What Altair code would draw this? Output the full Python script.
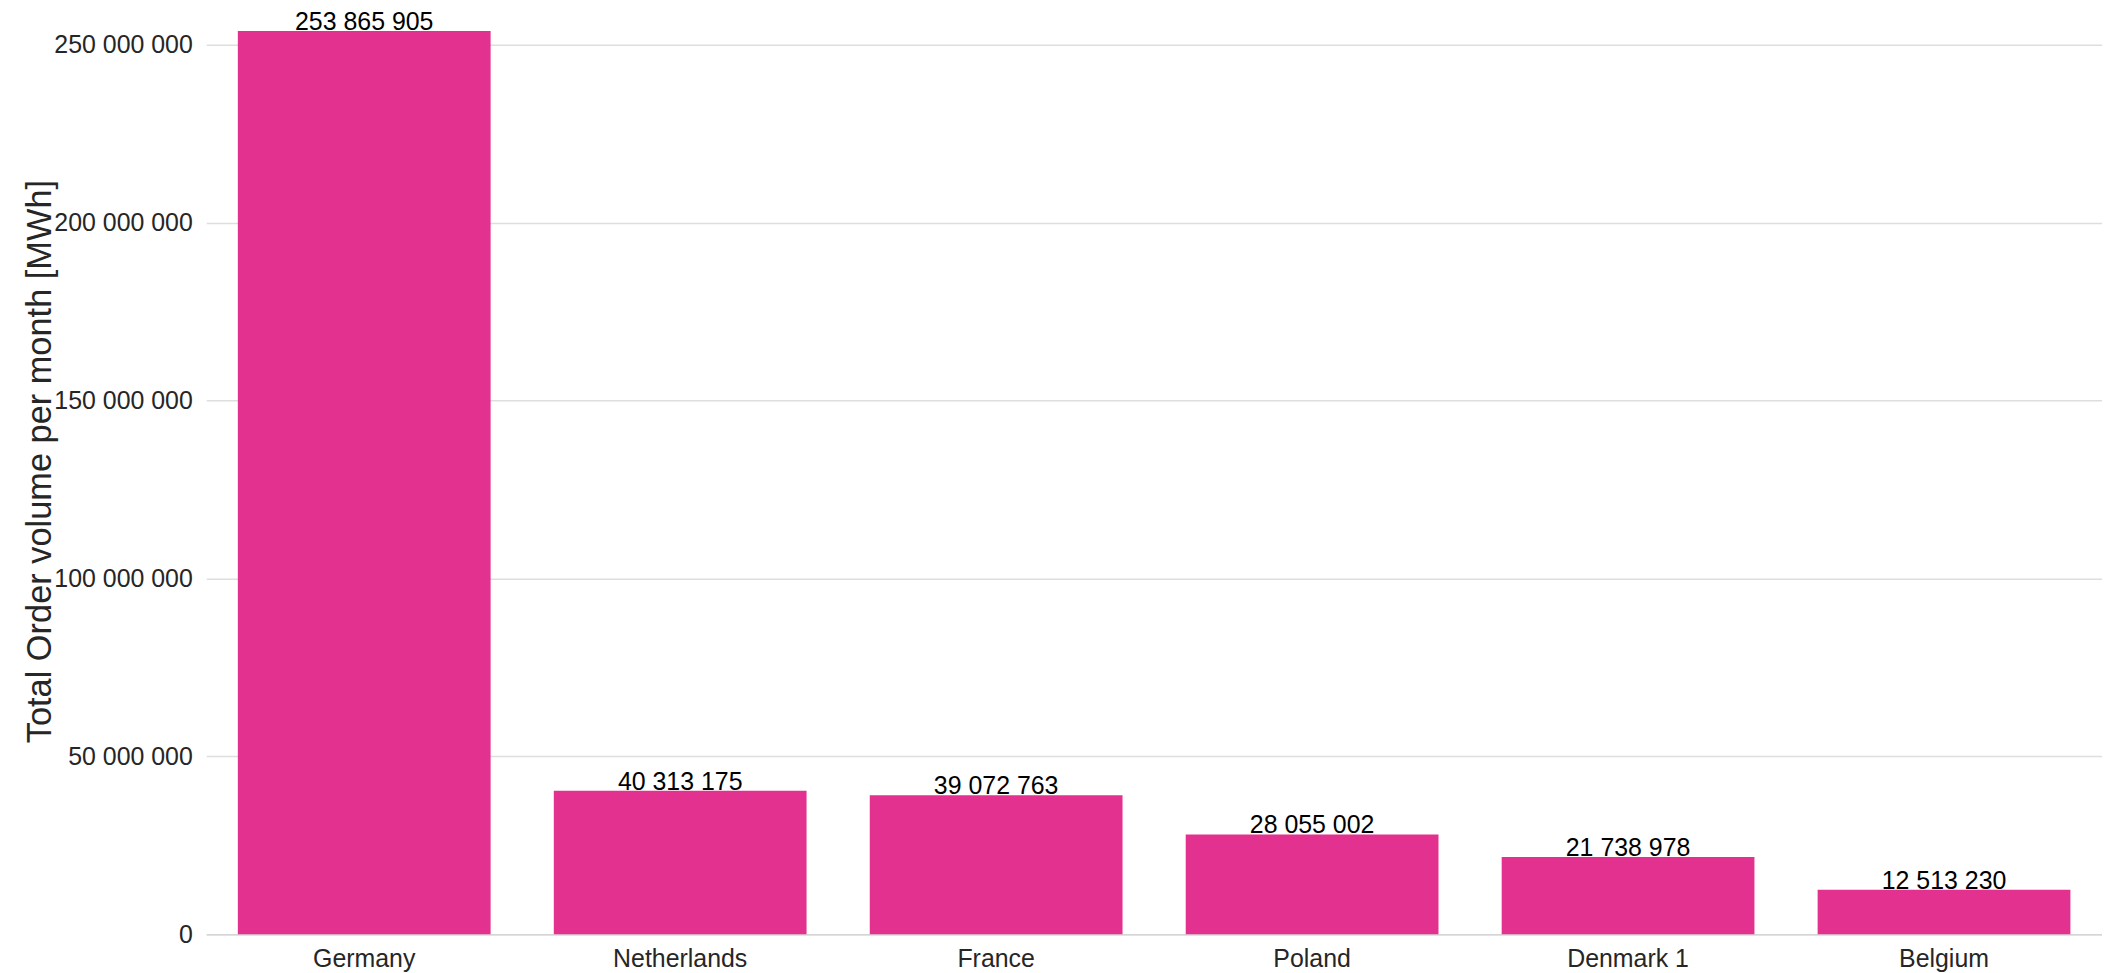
import altair as alt
import pandas as pd

countries = ["Germany", "Netherlands", "France", "Poland", "Denmark 1", "Belgium"]
volumes = [253865905, 40313175, 39072763, 28055002, 21738978, 12513230]
y_ticks = [0, 50000000, 100000000, 150000000, 200000000, 250000000]

df = pd.DataFrame({"country": countries, "volume": volumes})
df["label"] = [f"{v:,}".replace(",", " ") for v in volumes]

FONT = "Liberation Sans"
BAR = "#E2318E"

base = alt.Chart(df).encode(
    x=alt.X(
        "country:N",
        sort=countries,
        title=None,
        scale=alt.Scale(paddingInner=0.2, paddingOuter=0.1),
        axis=alt.Axis(
            labelAngle=0,
            labelFontSize=25,
            labelFont=FONT,
            labelColor="#262626",
            labelPadding=12,
            ticks=False,
            domain=True,
            domainColor="#d6d6d6",
            domainWidth=1.5,
            grid=False,
        ),
    ),
    y=alt.Y(
        "volume:Q",
        title="Total Order volume per month [MWh]",
        scale=alt.Scale(domain=[0, 259800000], nice=False, zero=True),
        axis=alt.Axis(
            values=y_ticks,
            labelExpr="replace(replace(format(datum.value, ','), ',', ' '), ',', ' ')",
            labelFontSize=25,
            labelFont=FONT,
            labelColor="#262626",
            labelPadding=14,
            ticks=False,
            domain=False,
            grid=True,
            gridColor="#dedede",
            gridWidth=1.5,
            titleFont=FONT,
            titleFontSize=34.5,
            titleFontWeight="normal",
            titleColor="#262626",
            titleAngle=270,
            titleAlign="center",
            titleBaseline="alphabetic",
            titleX=-156,
            titleY=453,
        ),
    ),
)

bars = base.mark_bar(color=BAR)

texts = base.mark_text(
    font=FONT, fontSize=25, color="black", baseline="alphabetic", dy=-1
).encode(text="label:N")

chart = (
    alt.layer(bars, texts)
    .properties(
        width=1903,
        height=928,
        background="white",
        autosize=alt.AutoSizeParams(type="none"),
        padding={"left": 199, "top": 0, "right": 0, "bottom": 37},
    )
    .configure_view(stroke="transparent", strokeWidth=0)
)

chart.save("out.html", embed_options={"renderer": "svg", "actions": False})
